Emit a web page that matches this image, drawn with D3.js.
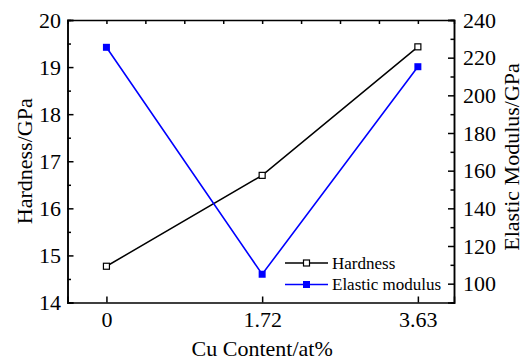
<!DOCTYPE html>
<html lang="en">
<head>
  <meta charset="utf-8"/>
  <script src="https://d3js.org/d3.v7.min.js"></script>
  <style>
    body { margin: 0; background: #fff; }
    /* every text on the chart uses a Times-like serif */
    svg text { font-family: "Liberation Serif", "DejaVu Serif", serif; fill: #000; }
    .axis path, .axis line { stroke: #000; stroke-width: 1.5px; }
  </style>
</head>
<body>
<div id="chart"></div>
<script>
  // Data
  const categories = ["0", "1.72", "3.63"];
  const hardness   = [14.77, 16.70, 19.43];
  const modulus    = [225.5, 105, 215.2];
  const leftTicks  = [14, 15, 16, 17, 18, 19, 20];
  const rightTicks = [100, 120, 140, 160, 180, 200, 220, 240];

  const width = 528, height = 362;
  const margin = {top: 20, right: 74, bottom: 59.5, left: 67.5};
  const iw = width - margin.left - margin.right,
        ih = height - margin.top - margin.bottom;

  const svg = d3.select("#chart").append("svg")
    .attr("width", width)
    .attr("height", height);

  const g = svg.append("g")
    .attr("transform", `translate(${margin.left},${margin.top})`);

  const x  = d3.scaleLinear().domain([-0.25, 2.232]).range([0, iw]);
  const yL = d3.scaleLinear().domain([14, 20]).range([ih, 0]);
  const yR = d3.scaleLinear().domain([90, 240]).range([ih, 0]);

  // minor ticks first (no labels)
  g.append("g").attr("class", "axis")
    .call(d3.axisLeft(yL).tickValues(d3.range(14.5, 20, 1)).tickSize(-3.5).tickFormat(""));
  g.append("g").attr("class", "axis")
    .attr("transform", `translate(${iw},0)`)
    .call(d3.axisRight(yR).tickValues(d3.range(110, 240, 20)).tickSize(-3.5).tickFormat(""));
  g.append("g").attr("class", "axis")
    .call(d3.axisTop(x).tickValues(d3.range(0, 2.01, 0.25)).tickSize(-4).tickFormat(""));

  // left axis
  g.append("g").attr("class", "axis")
    .call(d3.axisLeft(yL).tickValues(leftTicks).tickSize(-6).tickPadding(6.5).tickFormat(d3.format("d")))
    .call(a => a.selectAll("text").attr("font-size", 22));

  // right axis
  g.append("g").attr("class", "axis")
    .attr("transform", `translate(${iw},0)`)
    .call(d3.axisRight(yR).tickValues(rightTicks).tickSize(-6).tickPadding(9).tickFormat(d3.format("d")))
    .call(a => a.selectAll("text").attr("font-size", 22));

  // bottom axis
  g.append("g").attr("class", "axis")
    .attr("transform", `translate(0,${ih})`)
    .call(d3.axisBottom(x).tickValues([0, 1, 2]).tickSize(-6).tickPadding(9).tickFormat(i => categories[i]))
    .call(a => a.selectAll("text").attr("font-size", 22));

  // axis titles
  svg.append("text")
    .attr("transform", `translate(32,${margin.top + ih / 2}) rotate(-90)`)
    .attr("text-anchor", "middle")
    .attr("font-size", 22)
    .text("Hardness/GPa");

  svg.append("text")
    .attr("transform", `translate(519,157) rotate(-90)`)
    .attr("text-anchor", "middle")
    .attr("font-size", 22)
    .text("Elastic Modulus/GPa");

  svg.append("text")
    .attr("x", margin.left + x(1))
    .attr("y", 356)
    .attr("text-anchor", "middle")
    .attr("font-size", 22)
    .text("Cu Content/at%");

  // series
  const idx = d3.range(categories.length);

  g.append("path")
    .datum(idx)
    .attr("fill", "none")
    .attr("stroke", "#000")
    .attr("stroke-width", 1.5)
    .attr("d", d3.line().x(i => x(i)).y(i => yL(hardness[i])));

  g.append("path")
    .datum(idx)
    .attr("fill", "none")
    .attr("stroke", "#0000ff")
    .attr("stroke-width", 1.6)
    .attr("d", d3.line().x(i => x(i)).y(i => yR(modulus[i])));

  g.selectAll(".hmark").data(idx).enter().append("rect")
    .attr("class", "hmark")
    .attr("x", i => x(i) - 3).attr("y", i => yL(hardness[i]) - 3)
    .attr("width", 6).attr("height", 6)
    .attr("fill", "#fff").attr("stroke", "#000").attr("stroke-width", 1.2);

  g.selectAll(".mmark").data(idx).enter().append("rect")
    .attr("class", "mmark")
    .attr("x", i => x(i) - 3.5).attr("y", i => yR(modulus[i]) - 3.5)
    .attr("width", 7).attr("height", 7)
    .attr("fill", "#0000ff");

  // legend
  const legend = svg.append("g");
  const items = [
    {label: "Hardness", color: "#000", open: true, y: 263},
    {label: "Elastic modulus", color: "#0000ff", open: false, y: 284.5}
  ];
  items.forEach(d => {
    legend.append("line")
      .attr("x1", 285).attr("x2", 328).attr("y1", d.y).attr("y2", d.y)
      .attr("stroke", d.color).attr("stroke-width", 1.5);
    if (d.open) {
      legend.append("rect")
        .attr("x", 303.5).attr("y", d.y - 3).attr("width", 6).attr("height", 6)
        .attr("fill", "#fff").attr("stroke", d.color).attr("stroke-width", 1.2);
    } else {
      legend.append("rect")
        .attr("x", 303).attr("y", d.y - 3.5).attr("width", 7).attr("height", 7)
        .attr("fill", d.color);
    }
    legend.append("text")
      .attr("x", 332).attr("y", d.y)
      .attr("dy", "0.35em")
      .attr("font-size", 17)
      .text(d.label);
  });
</script>
</body>
</html>
